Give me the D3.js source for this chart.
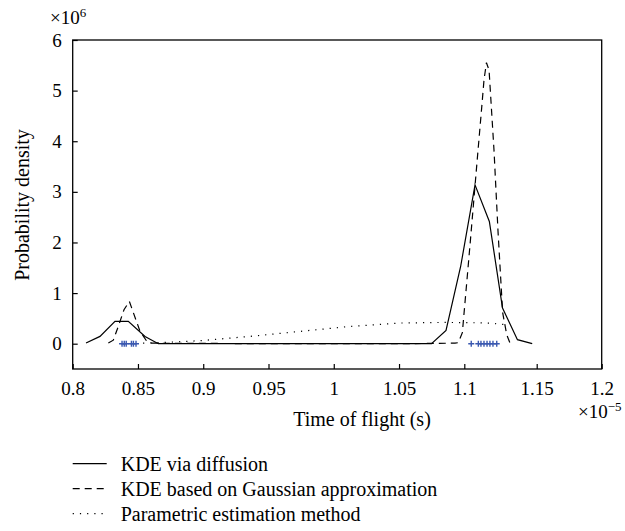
<!DOCTYPE html>
<html><head><meta charset="utf-8">
<script src="https://cdn.jsdelivr.net/npm/d3@7"></script>
<style>body{margin:0;background:#fff;}</style></head>
<body><svg id="c" width="625" height="531"></svg>
<script>
// ---- data ----
const xTicks = [0.8,0.85,0.9,0.95,1,1.05,1.1,1.15,1.2];
const xTickLabels = ["0.8","0.85","0.9","0.95","1","1.05","1.1","1.15","1.2"];
const yTicks = [0,1,2,3,4,5,6];
const yTickLabels = ["0","1","2","3","4","5","6"];

const diffX = [0.8102,0.8209,0.8324,0.8426,0.8554,0.8656,0.9,1.0,1.0749,1.086,1.0972,1.1074,1.1173,1.1264,1.1367,1.1469];
const diffY = [0.014,0.144,0.44,0.44,0.144,0.0,0.0,0.0,0.0,0.262,1.525,3.138,2.414,0.705,0.079,0.0];
const gaussX = [0.8273,0.8311,0.8351,0.8393,0.8434,0.8516,0.8567,0.8605,0.95,1.05,1.0929,1.0954,1.0985,1.1039,1.1095,1.112,1.1136,1.1153,1.1171,1.1205,1.1233,1.1265,1.1293,1.1316];
const gaussY = [0.014,0.069,0.355,0.671,0.835,0.243,0.05,0.01,0.0,0.0,0.01,0.02,0.217,1.934,3.829,4.658,5.21,5.552,5.407,3.829,2.21,0.612,0.178,0.01];
const paramX = [0.8539,0.8745,0.8975,0.9358,0.9741,1.0124,1.0507,1.0827,1.1039,1.1177,1.1293];
const paramY = [0.01,0.03,0.059,0.144,0.243,0.341,0.408,0.42,0.416,0.405,0.375];
const sampleX = [0.8378,0.8395,0.8410,0.8450,0.8465,0.8485,1.1048,1.1097,1.1115,1.1136,1.1157,1.1177,1.1198,1.1224];
const legendLabels = ["KDE via diffusion","KDE based on Gaussian approximation","Parametric estimation method"];

const svg = d3.select("#c");
const L = 72.7, R = 601.7, T = 40, B = 369;
const x = d3.scaleLinear().domain([0.8,1.1,1.15,1.2]).range([L,464.3,536.7,R]);
const y = d3.scaleLinear().domain([-0.5,6]).range([B,T]);
const setFont = (sel,size) => sel.attr("font-size",size).style("font-family","Liberation Serif");

const xa = svg.append("g").attr("transform",`translate(0,${B})`)
  .call(d3.axisBottom(x).tickValues(xTicks).tickFormat((d,i)=>xTickLabels[i])
    .tickSizeInner(-5).tickSizeOuter(0).tickPadding(12.5));
const ya = svg.append("g").attr("transform",`translate(${L},0)`)
  .call(d3.axisLeft(y).tickValues(yTicks).tickFormat((d,i)=>yTickLabels[i])
    .tickSizeInner(-5).tickSizeOuter(0).tickPadding(11));
[xa,ya].forEach(g=>{
  g.attr("font-family",null).attr("font-size",null);
  g.select(".domain").remove();
  g.selectAll("line").attr("stroke","#000").attr("stroke-width",1.2);
  setFont(g.selectAll("text"),19);
});

svg.append("rect").attr("x",L).attr("y",T).attr("width",R-L).attr("height",B-T)
  .attr("fill","none").attr("stroke","#000").attr("stroke-width",1.3);

const line = d3.line().x(d=>x(d[0])).y(d=>y(d[1]));
const series = [
  {xs:diffX, ys:diffY, dash:null},
  {xs:gaussX, ys:gaussY, dash:"7,5"},
  {xs:paramX, ys:paramY, dash:"1.2,6"}
];
series.forEach(s=>{
  svg.append("path").datum(s.xs.map((v,i)=>[v,s.ys[i]]))
    .attr("d",line).attr("fill","none").attr("stroke","#000")
    .attr("stroke-width",1.2).attr("stroke-dasharray",s.dash);
});

svg.append("g").selectAll("path").data(sampleX).join("path")
  .attr("transform",d=>`translate(${x(d)},${y(0)})`)
  .attr("d","M-3,0H3M0,-3V3").attr("stroke","#3a58b0").attr("stroke-width",1.4).attr("fill","none");

const tg = svg.append("g");
setFont(tg.append("text").attr("x",362).attr("y",426).attr("text-anchor","middle"),20)
  .text("Time of flight (s)");
setFont(tg.append("text").attr("transform","translate(29,205) rotate(-90)").attr("text-anchor","middle"),20)
  .text("Probability density");
const e1 = setFont(tg.append("text").attr("x",50).attr("y",24),19);
e1.append("tspan").text("×10");
e1.append("tspan").attr("font-size",13).attr("dy",-7).text("6");
const e2 = setFont(tg.append("text").attr("x",578).attr("y",418),19);
e2.append("tspan").text("×10");
e2.append("tspan").attr("font-size",13).attr("dy",-7).text("−5");

legendLabels.forEach((t,i)=>{
  const by = 470.7 + i*25;
  tg.append("line").attr("x1",72.7).attr("x2",106.7).attr("y1",by-7).attr("y2",by-7)
    .attr("stroke","#000").attr("stroke-width",1.2).attr("stroke-dasharray",series[i].dash);
  setFont(tg.append("text").attr("x",120.7).attr("y",by),20).text(t);
});
</script></body></html>
